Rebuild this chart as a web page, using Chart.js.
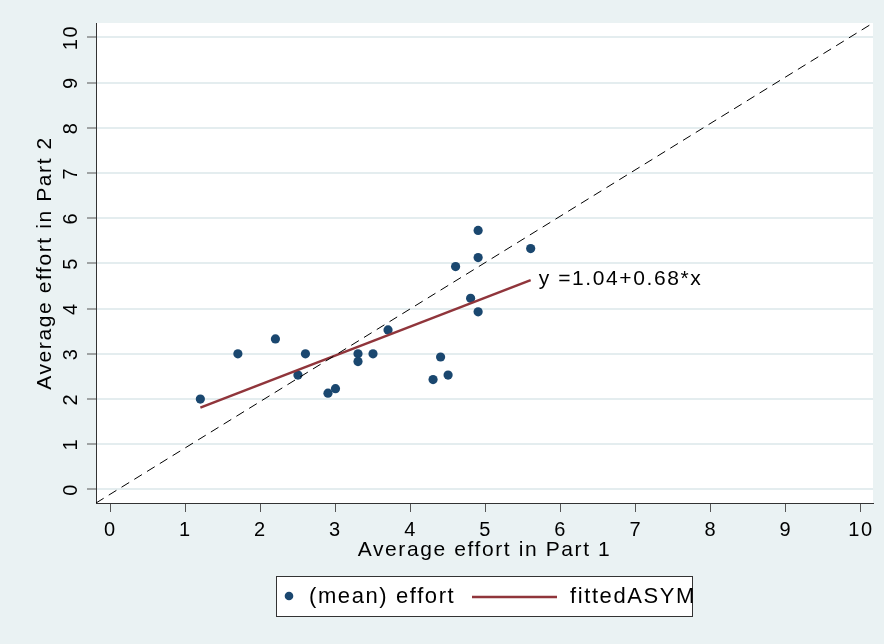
<!DOCTYPE html>
<html><head><meta charset="utf-8">
<script src="https://cdn.jsdelivr.net/npm/chart.js@4/dist/chart.umd.min.js"></script>
<style>html,body{margin:0;padding:0;background:#eaf2f3;overflow:hidden}#wrap{width:884px;height:644px}</style>
</head><body><div id="wrap"><canvas id="c" width="884" height="644"></canvas></div>
<script>
// ---- data ----
const effortPart1 = [1.2, 1.7, 2.2, 2.5, 2.6, 2.9, 3.0, 3.3, 3.3, 3.5, 3.7, 4.3, 4.4, 4.5, 4.6, 4.8, 4.9, 4.9, 4.9, 5.6];
const effortPart2 = [2.0, 3.0, 3.33, 2.53, 3.0, 2.13, 2.23, 3.0, 2.83, 3.0, 3.53, 2.43, 2.93, 2.53, 4.93, 4.23, 5.73, 5.13, 3.93, 5.33];
const fitX = [1.2, 5.6];
const fitY = [1.81, 4.63];
const diagX = [-0.19, 10.16];
const diagY = [-0.30, 10.32];
const xTicks = [0, 1, 2, 3, 4, 5, 6, 7, 8, 9, 10];
const yTicks = [0, 1, 2, 3, 4, 5, 6, 7, 8, 9, 10];
const seriesLabels = ['(mean) effort', 'fittedASYM'];
const equationText = 'y =1.04+0.68*x';
const xTitle = 'Average effort in Part 1';
const yTitle = 'Average effort in Part 2';

const FONT = '"Liberation Sans", Arial, sans-serif';
const NAVY = '#1a476f', MAROON = '#90353b', BG = '#eaf2f3';

const toPts = (xs, ys) => xs.map((x, i) => ({x, y: ys[i]}));

const decor = {
  id: 'decor',
  beforeDraw(chart) {
    const {ctx, chartArea: a} = chart;
    ctx.save();
    ctx.fillStyle = BG; ctx.fillRect(0, 0, chart.width, chart.height);
    ctx.fillStyle = '#ffffff'; ctx.fillRect(a.left, a.top, a.right - a.left, a.bottom - a.top);
    ctx.restore();
    ctx.letterSpacing = '1.6px';
  },
  afterDraw(chart) {
    const {ctx} = chart;
    const xs = chart.scales.x, ys = chart.scales.y;
    const ds = chart.data.datasets;
    ctx.save();
    ctx.letterSpacing = '1.6px';
    // equation annotation
    ctx.font = '21px ' + FONT;
    ctx.fillStyle = '#000';
    ctx.textAlign = 'left'; ctx.textBaseline = 'middle';
    ctx.fillText(equationText, xs.getPixelForValue(fitX[fitX.length - 1]) + 8, ys.getPixelForValue(fitY[fitY.length - 1]) - 1);
    // legend
    const lx = 276, ly = 576, lw = 416, lh = 40, cy = ly + lh / 2 + 1;
    ctx.fillStyle = '#fff'; ctx.fillRect(lx, ly, lw, lh);
    ctx.strokeStyle = '#333'; ctx.lineWidth = 1; ctx.strokeRect(lx + 0.5, ly + 0.5, lw, lh);
    ctx.beginPath(); ctx.arc(289, cy - 1, 4.3, 0, Math.PI * 2); ctx.fillStyle = ds[0].backgroundColor; ctx.fill();
    ctx.font = '22px ' + FONT; ctx.fillStyle = '#000';
    ctx.fillText(ds[0].label, 309, cy);
    ctx.beginPath(); ctx.moveTo(472, cy); ctx.lineTo(557, cy);
    ctx.strokeStyle = ds[1].borderColor; ctx.lineWidth = 2.5; ctx.stroke();
    ctx.fillStyle = '#000';
    ctx.fillText(ds[1].label, 570, cy);
    ctx.restore();
  }
};

new Chart(document.getElementById('c'), {
  type: 'scatter',
  data: {
    datasets: [
      {label: seriesLabels[0], data: toPts(effortPart1, effortPart2), backgroundColor: NAVY, borderWidth: 0,
       pointRadius: 4.6, pointHoverRadius: 4.6, order: 3},
      {label: seriesLabels[1], data: toPts(fitX, fitY), showLine: true, borderColor: MAROON, borderWidth: 2.5,
       pointRadius: 0, order: 2},
      {label: 'y = x', data: toPts(diagX, diagY), showLine: true, borderColor: '#000', borderWidth: 1,
       borderDash: [9, 6], pointRadius: 0, order: 1}
    ]
  },
  options: {
    responsive: false,
    devicePixelRatio: 1,
    animation: false,
    events: [],
    layout: {padding: {left: 0, top: 23, right: 11, bottom: 74}},
    plugins: {legend: {display: false}, tooltip: {enabled: false}},
    scales: {
      x: {
        type: 'linear', min: diagX[0], max: diagX[1],
        afterBuildTicks: s => { s.ticks = xTicks.map(v => ({value: v})); },
        afterFit: s => { s.height = 67; },
        border: {display: true, color: '#333', width: 1},
        grid: {drawOnChartArea: false, drawTicks: true, tickLength: 9, tickColor: '#555', tickWidth: 1},
        ticks: {font: {family: FONT, size: 20}, color: '#000', padding: 6, maxRotation: 0, autoSkip: false},
        title: {display: true, text: xTitle, font: {family: FONT, size: 21}, color: '#000', padding: {top: 0, bottom: 7}}
      },
      y: {
        type: 'linear', min: diagY[0], max: diagY[1],
        afterBuildTicks: s => { s.ticks = yTicks.map(v => ({value: v})); },
        afterFit: s => { s.width = 96; },
        border: {display: true, color: '#333', width: 1},
        grid: {color: '#e4edef', lineWidth: 2, drawTicks: true, tickLength: 9, tickColor: '#555', tickWidth: 1},
        ticks: {font: {family: FONT, size: 20}, color: '#000', padding: 4, minRotation: 90, maxRotation: 90,
                crossAlign: 'center', autoSkip: false},
        title: {display: true, text: yTitle, font: {family: FONT, size: 21}, color: '#000', padding: {top: 33, bottom: 0}}
      }
    }
  },
  plugins: [decor]
});
</script>
</body></html>
